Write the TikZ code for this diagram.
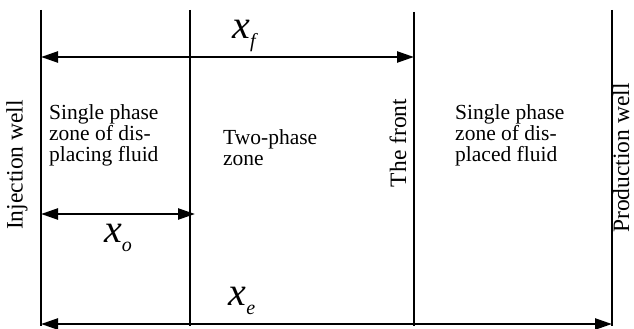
\documentclass[tikz,border=0pt]{standalone}
\usepackage{fontspec}
\setmainfont{Liberation Serif}
\newfontfamily\tnr{Liberation Serif}
\usetikzlibrary{arrows.meta}
\begin{document}
\begin{tikzpicture}[x=1pt,y=-1pt,
  wall/.style={line width=1.5pt},
  dim/.style={line width=2.4pt,{Triangle[length=17pt,width=11pt]}-{Triangle[length=17pt,width=11pt]}},
  zonetext/.style={align=left,anchor=north west,inner sep=0pt,font=\tnr\fontsize{21.5}{21}\selectfont},
  sidetext/.style={rotate=90,inner sep=0pt,font=\tnr\fontsize{23.5}{24}\selectfont},
  dimlabel/.style={inner sep=0pt,font=\tnr\itshape}]
\useasboundingbox (0,0) rectangle (634,329);
\coordinate (iT) at (41,10);   \coordinate (iB) at (41,326);
\coordinate (tT) at (190,10);  \coordinate (tB) at (190,326);
\coordinate (fT) at (414,12);  \coordinate (fB) at (414,326);
\coordinate (pT) at (612,10);  \coordinate (pB) at (612,326);
\draw[wall] (iT) -- (iB);
\draw[wall] (tT) -- (tB);
\draw[wall] (fT) -- (fB);
\draw[wall] (pT) -- (pB);
\coordinate (xfL) at (41,57);  \coordinate (xfR) at (414,57);
\coordinate (xoL) at (41,214); \coordinate (xoR) at (195,214);
\coordinate (xeL) at (41,324); \coordinate (xeR) at (612,324);
\draw[dim] (xfL) -- (xfR);
\draw[dim] (xoL) -- (xoR);
\draw[dim] (xeL) -- (xeR);
\node[dimlabel] (lf) at (244,36) {\fontsize{40}{40}\selectfont x\raisebox{-9pt}{\fontsize{20}{20}\selectfont f}};
\node[dimlabel] (lo) at (118,238) {\fontsize{40}{40}\selectfont x\raisebox{-9pt}{\fontsize{20}{20}\selectfont o}};
\node[dimlabel] (le) at (242,301) {\fontsize{40}{40}\selectfont x\raisebox{-9pt}{\fontsize{20}{20}\selectfont e}};
\node[zonetext] (z1) at (49,104) {Single phase\\zone of dis-\\placing fluid};
\node[zonetext] (z2) at (223,129) {Two-phase\\zone};
\node[zonetext] (z3) at (455,104) {Single phase\\zone of dis-\\placed fluid};
\node[sidetext] (iw) at (17,165) {Injection well};
\node[sidetext] (tf) at (398,143) {The front};
\node[sidetext] (pw) at (621,158) {Production well};
\end{tikzpicture}
\end{document}
